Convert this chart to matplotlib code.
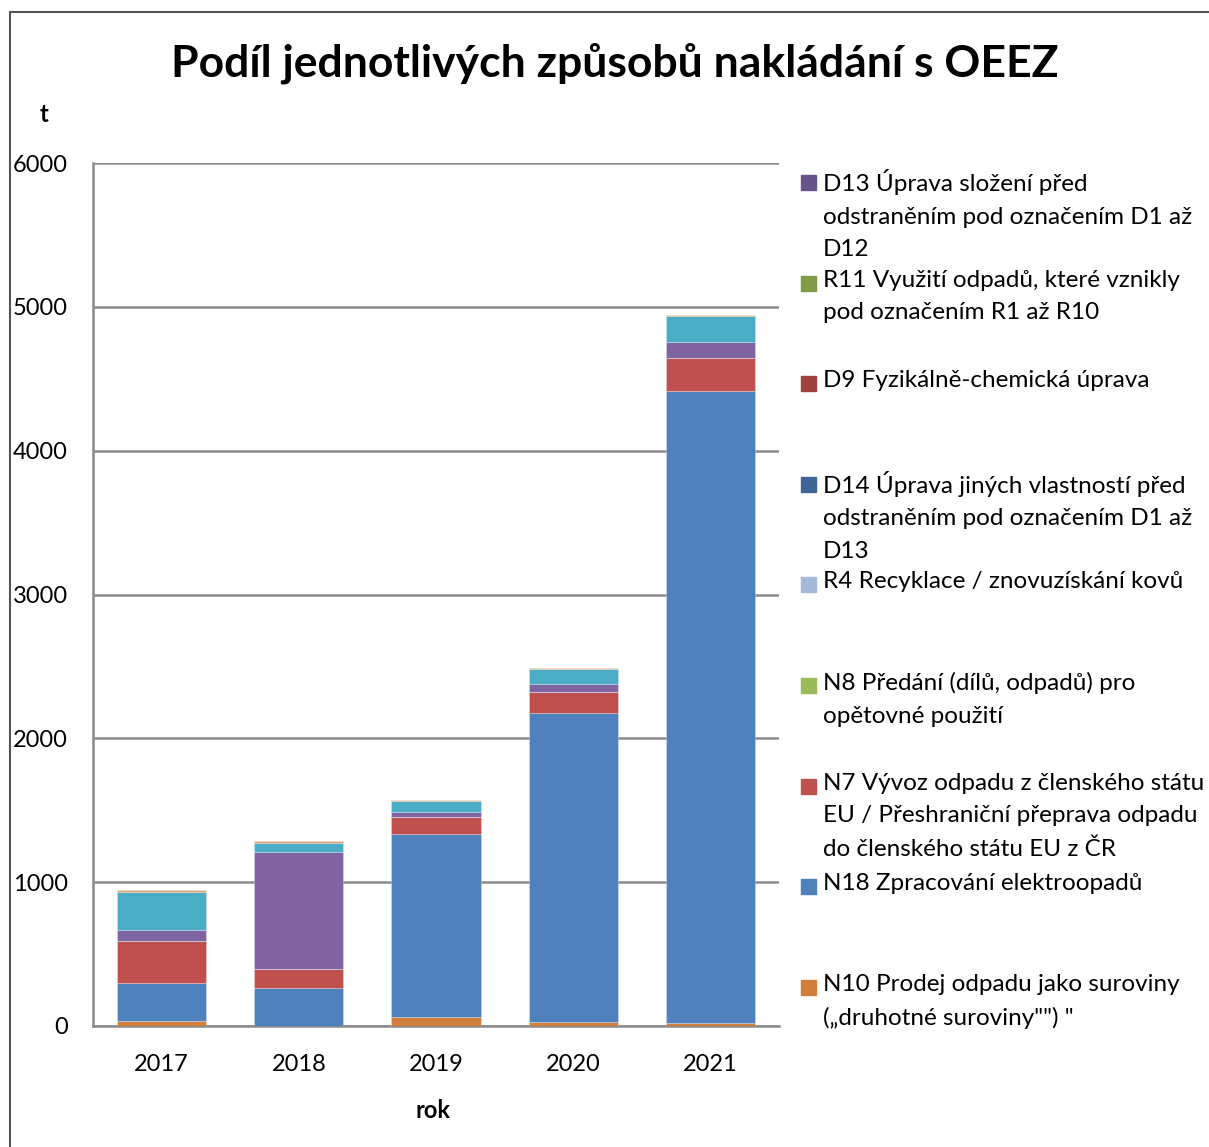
import numpy as np
import matplotlib
matplotlib.use('Agg')
import matplotlib.pyplot as plt
from matplotlib.patches import Rectangle

plt.rcParams['font.family'] = ['Lato', 'DejaVu Sans']

years = ['2017', '2018', '2019', '2020', '2021']

# stacked series, bottom to top (values in t)
n10 = [33, 0, 60, 28, 18]
n18 = [266, 267, 1277, 2146, 4394]
n7 = [292, 129, 116, 146, 234]
n8 = [0, 0, 0, 0, 0]
r4 = [0, 0, 0, 0, 0]
d14 = [0, 0, 0, 0, 0]
d9 = [0, 0, 0, 0, 0]
r11 = [0, 0, 0, 0, 0]
d13 = [0, 0, 0, 0, 0]
# series visible in the bars but whose legend entries are cut off
purple = [79, 811, 33, 56, 108]
cyan = [264, 67, 79, 104, 184]
top_thin = [12, 9, 9, 7, 5]

legend_labels = {
    'd13': 'D13 Úprava složení před\nodstraněním pod označením D1 až\nD12',
    'r11': 'R11 Využití odpadů, které vznikly\npod označením R1 až R10',
    'd9': 'D9 Fyzikálně-chemická úprava',
    'd14': 'D14 Úprava jiných vlastností před\nodstraněním pod označením D1 až\nD13',
    'r4': 'R4 Recyklace / znovuzískání kovů',
    'n8': 'N8 Předání (dílů, odpadů) pro\nopětovné použití',
    'n7': 'N7 Vývoz odpadu z členského státu\nEU / Přeshraniční přeprava odpadu\ndo členského státu EU z ČR',
    'n18': 'N18 Zpracování elektroopadů',
    'n10': 'N10 Prodej odpadu jako suroviny\n(„druhotné suroviny"") "',
}

series = [('n10', n10, '#D07E39'), ('n18', n18, '#4F81BD'), ('n7', n7, '#C0504D'),
          ('n8', n8, '#9BBB59'), ('r4', r4, '#A7B9DB'), ('d14', d14, '#3F6598'),
          ('d9', d9, '#9E413E'), ('r11', r11, '#7F9B48'), ('d13', d13, '#675289'),
          ('purple', purple, '#8064A2'), ('cyan', cyan, '#4BACC6'),
          ('top', top_thin, '#D9A070')]

fig = plt.figure(figsize=(12.09, 11.47), dpi=100)
ax = fig.add_axes([93 / 1209, 1 - 1026 / 1147, 686 / 1209, 863 / 1147])

x = np.arange(len(years))
bottom = np.zeros(len(years))
for name, vals, color in series:
    ax.bar(x, vals, width=0.65, bottom=bottom, color=color,
           edgecolor=(1, 1, 1, 0.3), linewidth=0.6, zorder=3)
    bottom += np.array(vals)

ax.set_xlim(-0.5, 4.5)
ax.set_ylim(0, 6000)
ax.set_yticks(np.arange(0, 6001, 1000))
ax.set_xticks(x)
ax.set_xticklabels(years)
ax.tick_params(axis='both', length=0, labelsize=17, colors='black')
ax.tick_params(axis='y', pad=18)
ax.tick_params(axis='x', pad=20)
ax.yaxis.grid(True, color='#8c8c8c', linewidth=1.8, zorder=0)
ax.set_axisbelow(True)
for side in ['top', 'right']:
    ax.spines[side].set_visible(False)
for side in ['left', 'bottom']:
    ax.spines[side].set_color('#8c8c8c')
    ax.spines[side].set_linewidth(1.8)

fig.text(615 / 1209, 1 - 63 / 1147, 'Podíl jednotlivých způsobů nakládání s OEEZ',
         ha='center', va='center', fontsize=32, fontweight='bold')
fig.text(44 / 1209, 1 - 115 / 1147, 't', ha='center', va='center', fontsize=17, fontweight='bold')
fig.text(433 / 1209, 1 - 1110 / 1147, 'rok', ha='center', va='center', fontsize=17, fontweight='bold')

# legend drawn by hand to match the uneven spacing of the original
colors = {name: color for name, vals, color in series}
order = ['d13', 'r11', 'd9', 'd14', 'r4', 'n8', 'n7', 'n18', 'n10']
for i, name in enumerate(order):
    y = 183 + i * 100.6
    fig.patches.append(Rectangle((801 / 1209, 1 - (y + 7) / 1147), 15 / 1209, 15 / 1147,
                                 transform=fig.transFigure, color=colors[name]))
    fig.text(823 / 1209, 1 - (y - 14) / 1147, legend_labels[name], ha='left', va='top',
             fontsize=17.5, linespacing=1.68)

# outer frame of the chart
fig.patches.append(Rectangle((10 / 1209, -0.01), 1.1, 1 - 12 / 1147 + 0.01,
                             transform=fig.transFigure, fill=False,
                             edgecolor='#555555', linewidth=1.5))

fig.savefig('out.png', dpi=100)
